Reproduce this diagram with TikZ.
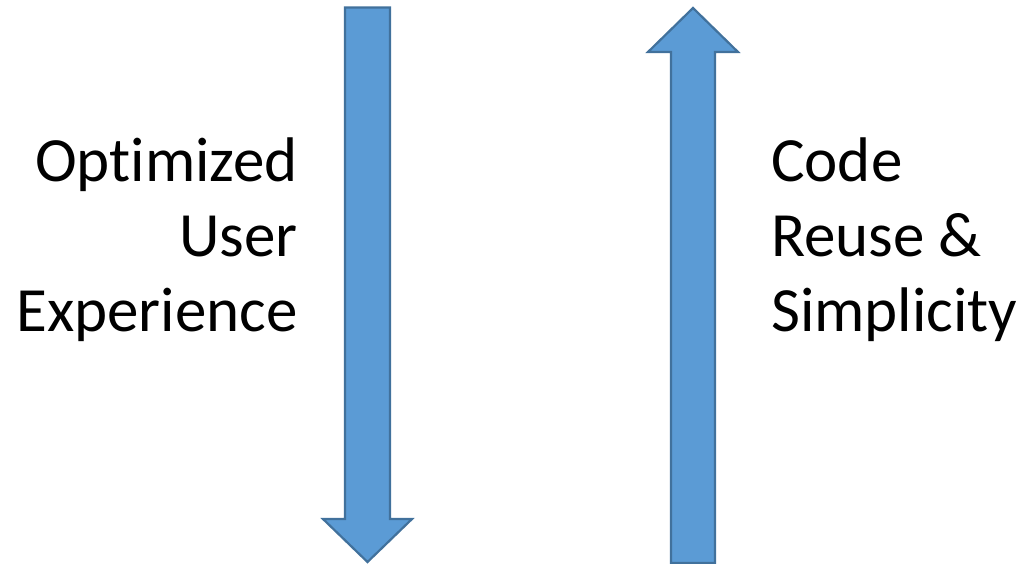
\documentclass[tikz,border=0pt]{standalone}
\usepackage{fontspec}
\setmainfont[Ligatures=NoCommon]{Carlito}
\definecolor{arrowfill}{HTML}{5B9BD5}
\definecolor{arrowline}{HTML}{41719C}
\begin{document}
\begin{tikzpicture}[x=1pt,y=-1pt,
  bigarrow/.style={fill=arrowfill,draw=arrowline,line width=2.2pt,line join=miter},
  lbl/.style={inner sep=0pt,font=\fontsize{63}{75}\selectfont}]
\useasboundingbox (0,0) rectangle (1029,564);
\draw[bigarrow] (345,7.5) -- (390,7.5) -- (390,519) -- (412,519) -- (367.5,562) -- (323,519) -- (345,519) -- cycle;
\draw[bigarrow] (671,563) -- (715,563) -- (715,52) -- (738,52) -- (693,8) -- (648,52) -- (671,52) -- cycle;
\node[lbl,anchor=base east] (l1) at (298,182) {Optimized};
\node[lbl,anchor=base east] (l2) at (298,257) {User};
\node[lbl,anchor=base east] (l3) at (298,332) {Experience};
\node[lbl,anchor=base west] (r1) at (771,182) {Code};
\node[lbl,anchor=base west] (r2) at (771,257) {Reuse \&};
\node[lbl,anchor=base west] (r3) at (771,332) {Simplicity};
\end{tikzpicture}
\end{document}
